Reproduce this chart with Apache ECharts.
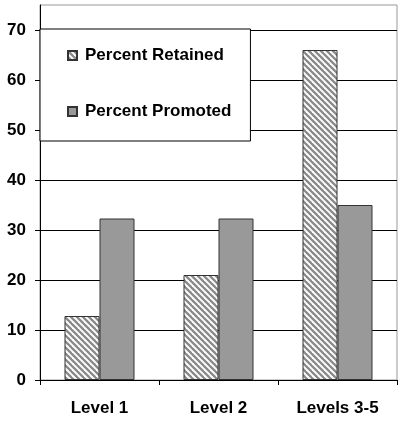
<!DOCTYPE html>
<html>
<head>
<meta charset="utf-8">
<script src="https://cdn.jsdelivr.net/npm/echarts@6/dist/echarts.min.js"></script>
<style>
  html, body { margin: 0; padding: 0; background: #fff; }
  #chart { width: 403px; height: 429px; }
</style>
</head>
<body>
<div id="chart"></div>
<script>
const categories = ['Level 1', 'Level 2', 'Levels 3-5']
const retained = [12.8, 21, 66]
const promoted = [32.3, 32.3, 35]
const yTicks = [0, 10, 20, 30, 40, 50, 60, 70]

// diagonal hatch for "Percent Retained"
function hatch() {
  const n = 6
  const c = document.createElement('canvas')
  c.width = n
  c.height = n
  const ctx = c.getContext('2d')
  ctx.fillStyle = '#ffffff'
  ctx.fillRect(0, 0, n, n)
  ctx.strokeStyle = '#8a8a8a'
  ctx.lineWidth = 2.3
  for (let k = -1; k <= 1; k++) {
    ctx.beginPath()
    ctx.moveTo(k * n - 1, -1)
    ctx.lineTo(k * n + n + 1, n + 1)
    ctx.stroke()
  }
  return c
}

const font = 'Liberation Sans, Arial, sans-serif'
const chart = echarts.init(document.getElementById('chart'))
chart.setOption({
  animation: false,
  grid: {
    left: 40,
    right: 6,
    top: 5,
    bottom: 49,
    show: true,
    borderColor: '#999',
    borderWidth: 1
  },
  legend: {
    orient: 'vertical',
    left: 40,
    top: 29,
    padding: [18, 19, 21, 27],
    itemGap: 39,
    itemWidth: 9,
    itemHeight: 9,
    backgroundColor: '#fff',
    borderColor: '#000',
    borderWidth: 1,
    icon: 'rect',
    textStyle: {
      fontFamily: font,
      fontWeight: 'bold',
      fontSize: 17,
      color: '#000',
      padding: [0, 0, 0, 3]
    },
    data: ['Percent Retained', 'Percent Promoted']
  },
  xAxis: {
    type: 'category',
    data: categories,
    axisLine: { lineStyle: { color: '#000', width: 1 } },
    axisTick: { show: true, length: 5, lineStyle: { color: '#000' } },
    axisLabel: {
      fontFamily: font,
      fontWeight: 'bold',
      fontSize: 17,
      color: '#000',
      margin: 20
    }
  },
  yAxis: {
    type: 'value',
    min: yTicks[0],
    max: 75,
    interval: yTicks[1] - yTicks[0],
    axisLine: { show: true, lineStyle: { color: '#000', width: 1 } },
    axisTick: { show: true, length: 5, lineStyle: { color: '#000' } },
    axisLabel: {
      fontFamily: font,
      fontWeight: 'bold',
      fontSize: 17,
      color: '#000',
      margin: 14,
      showMaxLabel: false
    },
    splitLine: { show: true, showMaxLine: false, lineStyle: { color: '#000', width: 1 } }
  },
  series: [
    {
      name: 'Percent Retained',
      type: 'bar',
      data: retained,
      barWidth: 35,
      barGap: '0%',
      itemStyle: {
        color: { image: hatch(), repeat: 'repeat' },
        borderColor: '#333',
        borderWidth: 1
      }
    },
    {
      name: 'Percent Promoted',
      type: 'bar',
      data: promoted,
      barWidth: 35,
      barGap: '0%',
      itemStyle: {
        color: '#999',
        borderColor: '#333',
        borderWidth: 1
      }
    }
  ]
})
</script>
</body>
</html>
